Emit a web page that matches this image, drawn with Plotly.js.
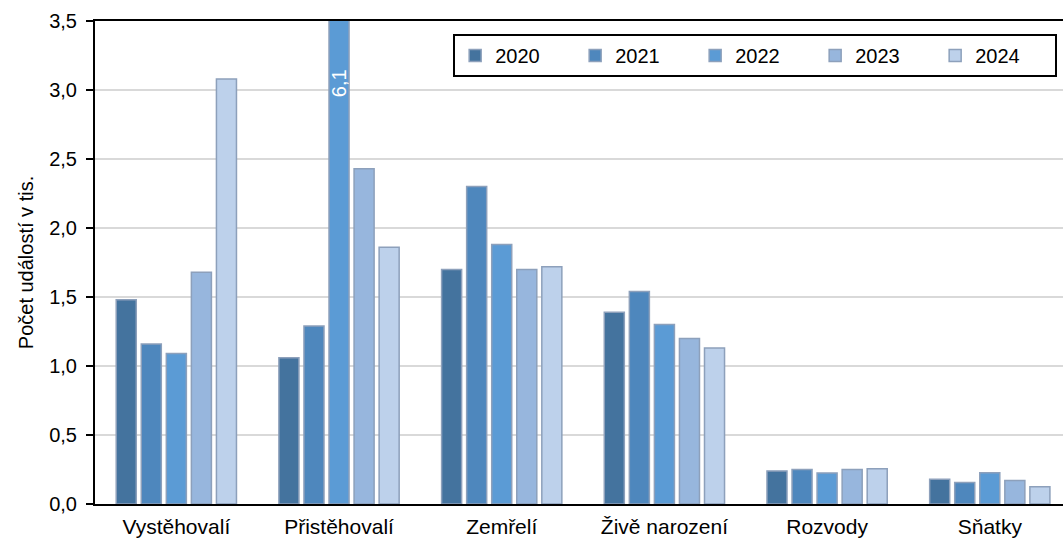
<!DOCTYPE html>
<html>
<head>
<meta charset="utf-8">
<script src="https://cdn.plot.ly/plotly-3.0.1.min.js"></script>
<style>html,body{margin:0;padding:0;background:#fff;overflow:hidden}#chart{width:1063px;height:540px}</style>
</head>
<body>
<div id="chart"></div>
<script>
const categories = ["Vystěhovalí", "Přistěhovalí", "Zemřelí", "Živě narození", "Rozvody", "Sňatky"];
const years = ["2020", "2021", "2022", "2023", "2024"];
const values2020 = [1.48, 1.06, 1.70, 1.39, 0.24, 0.18];
const values2021 = [1.16, 1.29, 2.30, 1.54, 0.25, 0.155];
const values2022 = [1.09, 6.1, 1.88, 1.30, 0.225, 0.227];
const values2023 = [1.68, 2.43, 1.70, 1.20, 0.25, 0.17];
const values2024 = [3.08, 1.86, 1.72, 1.13, 0.256, 0.125];
const yTicks = [0, 0.5, 1, 1.5, 2, 2.5, 3, 3.5];
const clippedLabelText = "6,1";
const clippedLabelCategory = "Přistěhovalí";

const series = [values2020, values2021, values2022, values2023, values2024];
const colors = ["#44739E", "#4E87BD", "#5B9BD5", "#97B6DD", "#BDD1EB"];

const traces = series.map((vals, i) => ({
  type: "bar",
  name: years[i],
  x: categories,
  y: vals,
  marker: {color: colors[i], line: {color: "#8DA0BB", width: 1.5}},
  hoverinfo: "skip"
}));

const fam = "Liberation Sans, Arial, sans-serif";
const font = {family: fam, size: 20, color: "#000"};

const layout = {
  width: 1063,
  height: 540,
  margin: {l: 95, r: 0, t: 21, b: 36, pad: 0},
  paper_bgcolor: "#fff",
  plot_bgcolor: "#fff",
  separators: ", ",
  font: font,
  barmode: "group",
  bargap: 0.23,
  bargroupgap: 0.2,
  showlegend: true,
  legend: {
    orientation: "h",
    x: 0.37, xanchor: "left",
    y: 0.973, yanchor: "top",
    bordercolor: "#000",
    borderwidth: 2,
    bgcolor: "#fff",
    font: {family: fam, size: 20, color: "#000"},
    entrywidth: 75,
    itemwidth: 30,
    traceorder: "normal"
  },
  xaxis: {
    type: "category",
    range: [-0.5, 5.45],
    showline: true,
    linecolor: "#000",
    linewidth: 2,
    mirror: true,
    ticks: "",
    ticklabelstandoff: 3,
    tickfont: {family: fam, size: 21, color: "#000"},
    showgrid: false,
    fixedrange: true
  },
  yaxis: {
    range: [0, 3.5],
    tickvals: yTicks,
    tickformat: ".1f",
    showline: true,
    linecolor: "#000",
    linewidth: 2,
    ticks: "outside",
    ticklen: 7,
    tickcolor: "#000",
    tickwidth: 1.5,
    ticklabelstandoff: 5,
    showgrid: true,
    gridcolor: "#D9D9D9",
    gridwidth: 1.5,
    zeroline: false,
    tickfont: {family: fam, size: 20, color: "#000"},
    title: {text: "Počet událostí v tis.", font: {family: fam, size: 20, color: "#000"}, standoff: 10},
    fixedrange: true
  },
  annotations: [{
    x: clippedLabelCategory,
    y: 3.05,
    xref: "x",
    yref: "y",
    text: clippedLabelText,
    textangle: -90,
    showarrow: false,
    font: {family: fam, size: 20, color: "#fff"}
  }]
};

Plotly.newPlot("chart", traces, layout, {staticPlot: true, displayModeBar: false});
</script>
</body>
</html>
